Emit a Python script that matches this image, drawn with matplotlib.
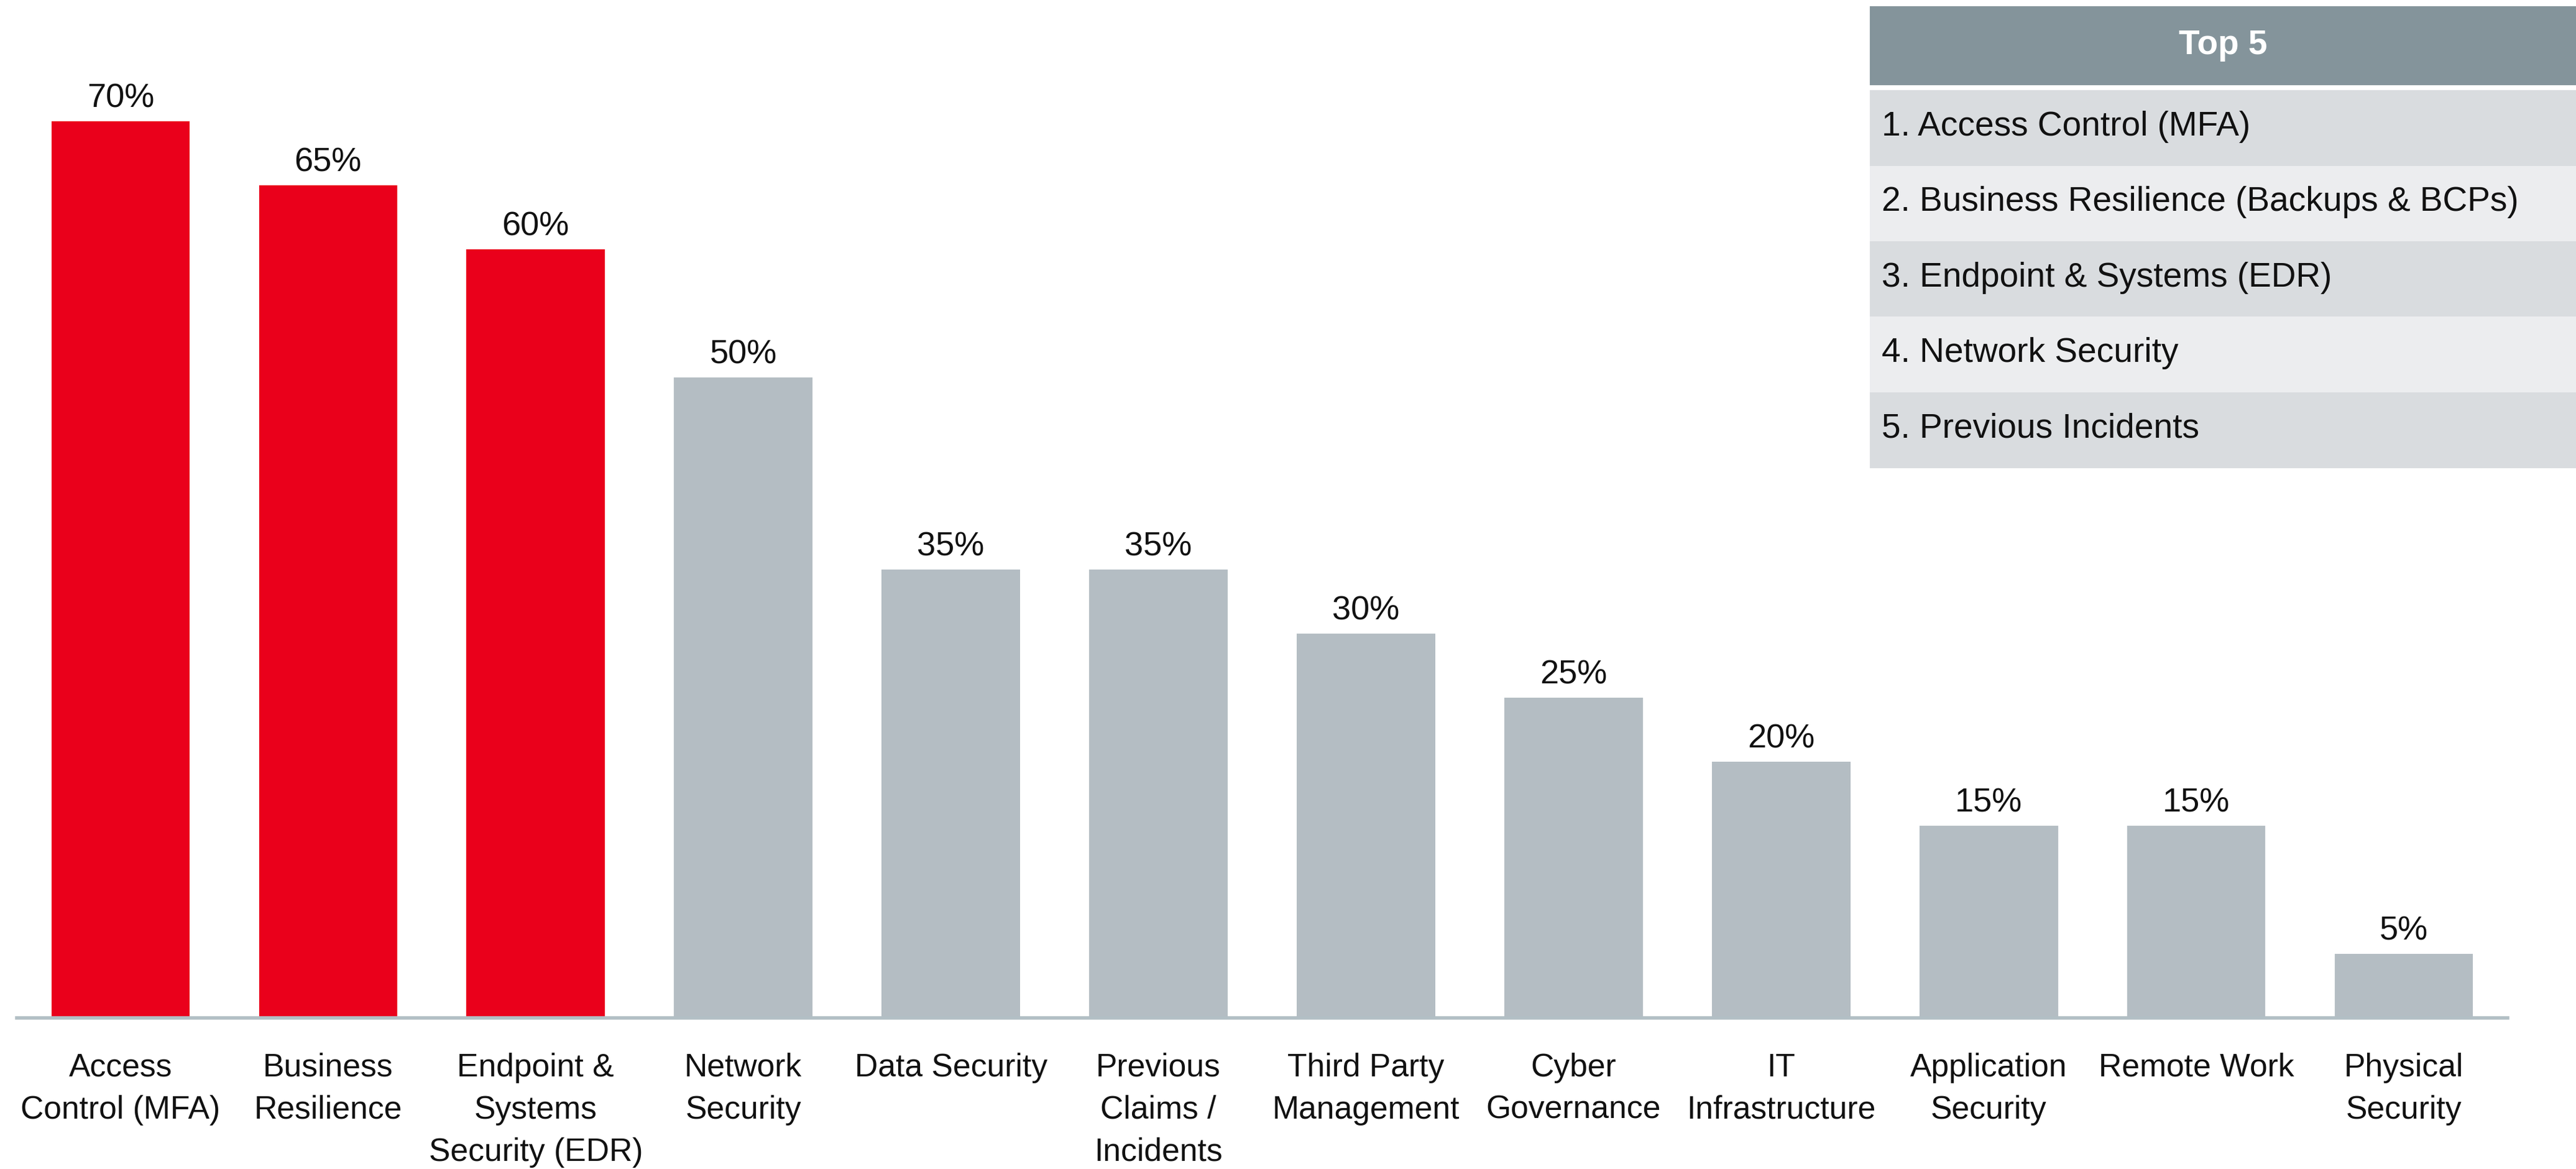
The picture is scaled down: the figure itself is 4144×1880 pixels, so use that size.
import matplotlib
matplotlib.use("Agg")
import matplotlib.pyplot as plt
from matplotlib.patches import Rectangle

plt.rcParams['font.family'] = ['Liberation Sans', 'DejaVu Sans']

categories = ["Access\nControl (MFA)", "Business\nResilience", "Endpoint &\nSystems\nSecurity (EDR)",
              "Network\nSecurity", "Data Security", "Previous\nClaims /\nIncidents",
              "Third Party\nManagement", "Cyber\nGovernance", "IT\nInfrastructure",
              "Application\nSecurity", "Remote Work", "Physical\nSecurity"]
values = [70, 65, 60, 50, 35, 35, 30, 25, 20, 15, 15, 5]
highlighted = [True, True, True, False, False, False, False, False, False, False, False, False]
top5_title = "Top 5"
top5_items = ["1. Access Control (MFA)", "2. Business Resilience (Backups & BCPs)",
              "3. Endpoint & Systems (EDR)", "4. Network Security", "5. Previous Incidents"]

RED = "#EA001B"
GREY = "#B4BDC3"
AXIS = "#B2BFC5"
HEADER = "#84949B"
ROW_A = "#D9DCDF"
ROW_B = "#ECEDEF"

W, H = 4144, 1880
fig = plt.figure(figsize=(W / 200, H / 200), dpi=200)
ax = fig.add_axes([27 / W, 243 / H, (4034 - 27) / W, 1 - 243 / H])

x = list(range(len(values)))
colors = [RED if h else GREY for h in highlighted]
ax.bar(x, values, width=0.667, color=colors, zorder=2)
ax.set_xlim(-0.5, len(values) - 0.5)
ax.set_ylim(0, 1637 / 20.6)

for xi, v in zip(x, values):
    ax.annotate(f"{v}%", (xi, v), xytext=(0, 4), textcoords="offset points",
                ha="center", va="bottom", fontsize=19.5, color="#111111")

ax.set_xticks(x)
ax.set_xticklabels(categories, fontsize=18.6, color="#111111", linespacing=1.5, va="top")
ax.tick_params(axis="x", length=0, pad=20)
ax.set_yticks([])
for s in ["top", "left", "right"]:
    ax.spines[s].set_visible(False)
ax.spines["bottom"].set_color(AXIS)
ax.spines["bottom"].set_linewidth(2)

# Top 5 table
tx0 = 3008 / W
tw = 1 - tx0
def fy(py):
    return 1 - py / H

fig.patches.append(Rectangle((tx0, fy(137)), tw, (137 - 10) / H, transform=fig.transFigure,
                             facecolor=HEADER, edgecolor="none", zorder=3))
fig.text(tx0 + tw / 2, fy(73), top5_title, ha="center", va="center", fontsize=19.8,
         fontweight="bold", color="white", zorder=4)
row_top = 145
row_h = 121.5
for i, item in enumerate(top5_items):
    t = row_top + i * row_h
    fig.patches.append(Rectangle((tx0, fy(t + row_h)), tw, row_h / H, transform=fig.transFigure,
                                 facecolor=ROW_A if i % 2 == 0 else ROW_B, edgecolor="none", zorder=3))
    fig.text(3027 / W, fy(t + row_h / 2 - 2), item, ha="left", va="center", fontsize=19.8,
             color="#111111", zorder=4)

fig.savefig("out.png", dpi=200, facecolor="white")
